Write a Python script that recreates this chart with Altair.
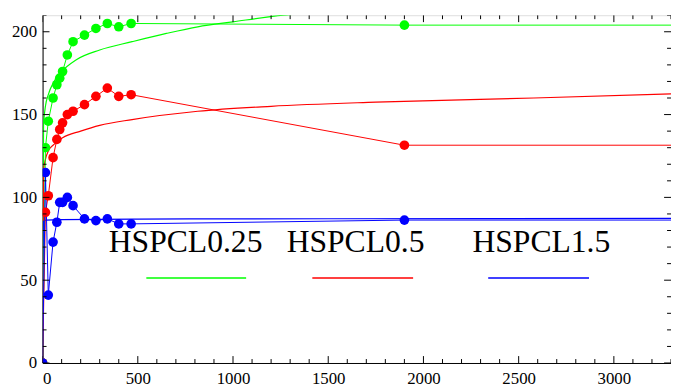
import altair as alt
import pandas as pd

# ---- data ----
series_names = ["HSPCL0.25", "HSPCL0.5", "HSPCL1.5"]
series_colors = ["#00ff00", "#ff0000", "#0000ff"]

x_vals = [0, 15, 30, 55, 75, 90, 105, 130, 160, 220, 280, 340, 400, 465, 1900, 3600]
green = [0, 130, 146, 160, 168, 172, 176, 186, 194, 198, 202, 205, 203, 205, 204, 204]
red = [0, 91, 101, 124, 135, 141, 145, 150, 152, 156, 161, 166, 161, 162, 131.5, 131.5]
blue = [0, 115, 41, 73, 85, 97, 97, 100, 95, 87, 86, 87, 84, 84, 86.3, 86.3]

fit_green_x = [0, 5, 15, 30, 60, 100, 175, 300, 470, 650, 815, 1000, 1265, 1500]
fit_green_y = [0, 143, 155, 162, 170, 176, 183, 189, 194, 199, 203, 206, 210, 212]
fit_red_x = [0, 5, 15, 30, 60, 105, 200, 300, 470, 815, 1200, 1750, 2580, 3300]
fit_red_y = [0, 116, 123, 128, 132, 136, 140, 143.5, 147, 152, 155, 157.5, 160, 162.5]
fit_blue_x = [0, 5, 20, 100, 500, 1500, 3300]
fit_blue_y = [0, 85.5, 86.3, 86.6, 86.9, 87.1, 87.3]

x_major = [0, 500, 1000, 1500, 2000, 2500, 3000]
x_minor = [v for v in range(100, 3400, 100) if v % 500 != 0]
y_major = [0, 50, 100, 150, 200]
y_minor = [v for v in range(10, 211, 10) if v % 50 != 0]

# ---- tables ----
rows = []
for name, ys in zip(series_names, [green, red, blue]):
    for i, (xv, yv) in enumerate(zip(x_vals, ys)):
        rows.append({"series": name, "x": xv, "y": yv, "i": i})
pts = pd.DataFrame(rows)

frows = []
for name, xs, ys in zip(series_names, [fit_green_x, fit_red_x, fit_blue_x],
                        [fit_green_y, fit_red_y, fit_blue_y]):
    for i, (xv, yv) in enumerate(zip(xs, ys)):
        frows.append({"series": name, "x": xv, "y": yv, "i": i})
fits = pd.DataFrame(frows)

W, H = 636, 352
FONT = "'Liberation Serif', 'Times New Roman', serif"

xscale = alt.Scale(domain=[0, 3300], nice=False, zero=False)
yscale = alt.Scale(domain=[0, 210], nice=False, zero=False)
xaxis = alt.Axis(values=x_major, format="d", ticks=False, grid=False, labelPadding=8,
                 labelFont=FONT, labelFontSize=17, labelColor="black",
                 domainColor="black", title=None)
yaxis = alt.Axis(values=y_major, format="d", ticks=False, grid=False, labelPadding=6,
                 labelFont=FONT, labelFontSize=17, labelColor="black",
                 domainColor="black", title=None)
X = alt.X("x:Q", scale=xscale, axis=xaxis)
Y = alt.Y("y:Q", scale=yscale, axis=yaxis)
color = alt.Color("series:N", scale=alt.Scale(domain=series_names, range=series_colors),
                  legend=None)

fit_layer = alt.Chart(fits).mark_line(strokeWidth=1.2, clip=True, interpolate="monotone").encode(
    x=X, y=Y, color=color, detail="series:N", order="i:Q")
data_lines = alt.Chart(pts).mark_line(strokeWidth=1, clip=True).encode(
    x=X, y=Y, color=color, detail="series:N", order="i:Q")
points = alt.Chart(pts).mark_circle(size=95, opacity=1, clip=True).encode(
    x=X, y=Y, color=color)

# inside ticks on all four sides
xmaj = pd.DataFrame({"x": x_major})
xmin = pd.DataFrame({"x": x_minor})
ymaj = pd.DataFrame({"y": y_major})
ymin = pd.DataFrame({"y": y_minor})
tk = dict(color="black", strokeWidth=1, clip=True)
ticks = [
    alt.Chart(xmaj).mark_rule(**tk).encode(x=X, y=alt.value(H), y2=alt.value(H - 7)),
    alt.Chart(xmin).mark_rule(**tk).encode(x=X, y=alt.value(H), y2=alt.value(H - 4)),
    alt.Chart(xmaj).mark_rule(**tk).encode(x=X, y=alt.value(0), y2=alt.value(7)),
    alt.Chart(xmin).mark_rule(**tk).encode(x=X, y=alt.value(0), y2=alt.value(4)),
    alt.Chart(ymaj).mark_rule(**tk).encode(y=Y, x=alt.value(0), x2=alt.value(7)),
    alt.Chart(ymin).mark_rule(**tk).encode(y=Y, x=alt.value(0), x2=alt.value(4)),
    alt.Chart(ymaj).mark_rule(**tk).encode(y=Y, x=alt.value(W), x2=alt.value(W - 7)),
    alt.Chart(ymin).mark_rule(**tk).encode(y=Y, x=alt.value(W), x2=alt.value(W - 4)),
]

# custom legend: label above a coloured line
one = pd.DataFrame({"a": [0]})
legend_layers = []
text_x = [67, 247, 435]
line_x = [(105, 206), (273, 375), (451, 553)]
for name, col, tx, (lx1, lx2) in zip(series_names, series_colors, text_x, line_x):
    legend_layers.append(
        alt.Chart(one).mark_text(align="left", baseline="alphabetic", font=FONT,
                                 fontSize=32, color="black").encode(
            x=alt.value(tx), y=alt.value(240), text=alt.value(name)))
    legend_layers.append(
        alt.Chart(one).mark_rule(color=col, strokeWidth=1.6).encode(
            x=alt.value(lx1), x2=alt.value(lx2), y=alt.value(266)))

chart = alt.layer(fit_layer, data_lines, points, *ticks, *legend_layers).properties(
    width=W, height=H,
    autosize=alt.AutoSizeParams(type="none"),
    padding={"left": 35, "top": 5, "right": 0, "bottom": 22},
).configure_view(stroke="#555555", strokeWidth=1.2).configure(background="white")

chart.save("out.html", embed_options={"renderer": "svg", "actions": False})
